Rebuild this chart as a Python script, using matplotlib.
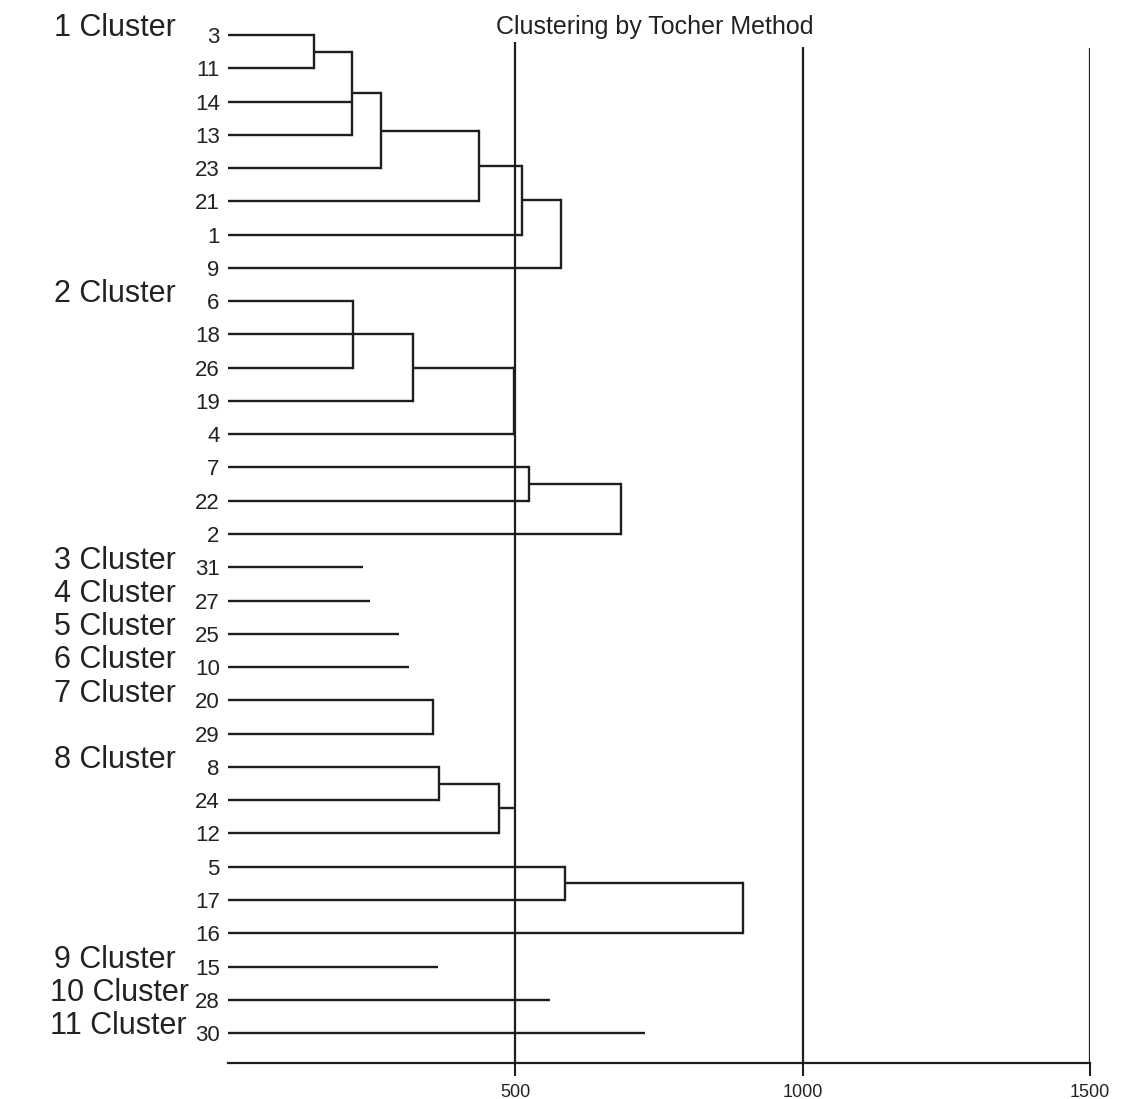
import numpy as np
import matplotlib.pyplot as plt
from matplotlib.transforms import blended_transform_factory

# Font: narrow sans like the scanned original
plt.rcParams['font.family'] = ['Liberation Sans Narrow', 'Liberation Sans', 'DejaVu Sans']

# Leaf order, top to bottom
leaves = [3, 11, 14, 13, 23, 21, 1, 9, 6, 18, 26, 19, 4, 7, 22, 2,
          31, 27, 25, 10, 20, 29, 8, 24, 12, 5, 17, 16, 15, 28, 30]

# Merges: node name, children, distance
node_names = ["a", "b", "c", "d", "e", "f",
              "g", "h", "i", "j", "k",
              "l", "m", "n", "o", "p"]
node_children = [["3", "11"], ["a", "14", "13"], ["b", "23"], ["c", "21"], ["d", "1"], ["e", "9"],
                 ["6", "18", "26"], ["g", "19"], ["h", "4"], ["7", "22"], ["j", "2"],
                 ["20", "29"], ["8", "24"], ["m", "12"], ["5", "17"], ["o", "16"]]
node_heights = [150, 216, 267, 436, 512, 580,
                218, 322, 497, 523, 684,
                356, 368, 472, 587, 897]

# Lines that end without joining anything (single-member clusters and open ends)
tail_names = ["31", "27", "25", "10", "15", "28", "30", "n"]
tail_heights = [235, 247, 298, 315, 366, 561, 725, 497]

# Cluster captions and the leaf row where each one starts
cluster_names = ["1 Cluster", "2 Cluster", "3 Cluster", "4 Cluster", "5 Cluster", "6 Cluster",
                 "7 Cluster", "8 Cluster", "9 Cluster", "10 Cluster", "11 Cluster"]
cluster_rows = [0, 8, 16, 17, 18, 19, 20, 22, 28, 29, 30]

cut_levels = [500, 1000, 1500]

W, H = 1124, 1099
fig = plt.figure(figsize=(W / 100, H / 100), dpi=100)
ax = fig.add_axes([228 / W, 1 - 1063 / H, 862 / W, 1043 / H])
ax.set_xlim(0, 1500)
ax.set_ylim(30.9, -0.45)

lc = '#1e1e1e'
lw = 1.7

pos = {str(lf): i for i, lf in enumerate(leaves)}
hgt = {str(lf): 0 for lf in leaves}

for name, kids, h in zip(node_names, node_children, node_heights):
    ys = [pos[k] for k in kids]
    for k in kids:
        ax.plot([hgt[k], h], [pos[k], pos[k]], color=lc, lw=lw, solid_capstyle='butt')
    ax.plot([h, h], [min(ys), max(ys)], color=lc, lw=lw)
    pos[name] = (min(ys) + max(ys)) / 2
    hgt[name] = h

for name, t in zip(tail_names, tail_heights):
    ax.plot([hgt[name], t], [pos[name], pos[name]], color=lc, lw=lw, solid_capstyle='butt')

# threshold lines
ax.vlines(cut_levels, ymin=[0.2, 0.35, 0.4], ymax=30.9, color=lc, lw=1.6)

# leaf labels
ax.set_yticks(range(len(leaves)))
ax.set_yticklabels([str(lf) for lf in leaves], fontsize=16, color='#222222')
ax.tick_params(axis='y', length=0, pad=6)

# x axis
ax.set_xticks(cut_levels)
ax.set_xticklabels([str(c) for c in cut_levels], fontsize=13, color='#222222')
ax.tick_params(axis='x', length=9, width=1.5, color=lc, pad=6)
for s in ['top', 'right', 'left']:
    ax.spines[s].set_visible(False)
ax.spines['bottom'].set_linewidth(1.6)
ax.spines['bottom'].set_color(lc)

# cluster captions
tr = blended_transform_factory(fig.transFigure, ax.transData)
for name, r in zip(cluster_names, cluster_rows):
    x0 = 50 if len(name) > 9 else 54
    ax.text(x0 / W, r - 0.2, name, transform=tr, fontsize=22, color='#222222',
            ha='left', va='center')

fig.text(655 / W, 1 - 27 / H, "Clustering by Tocher Method", fontsize=18,
         color='#222222', ha='center', va='center')

fig.savefig('out.png', dpi=100, facecolor='white')
